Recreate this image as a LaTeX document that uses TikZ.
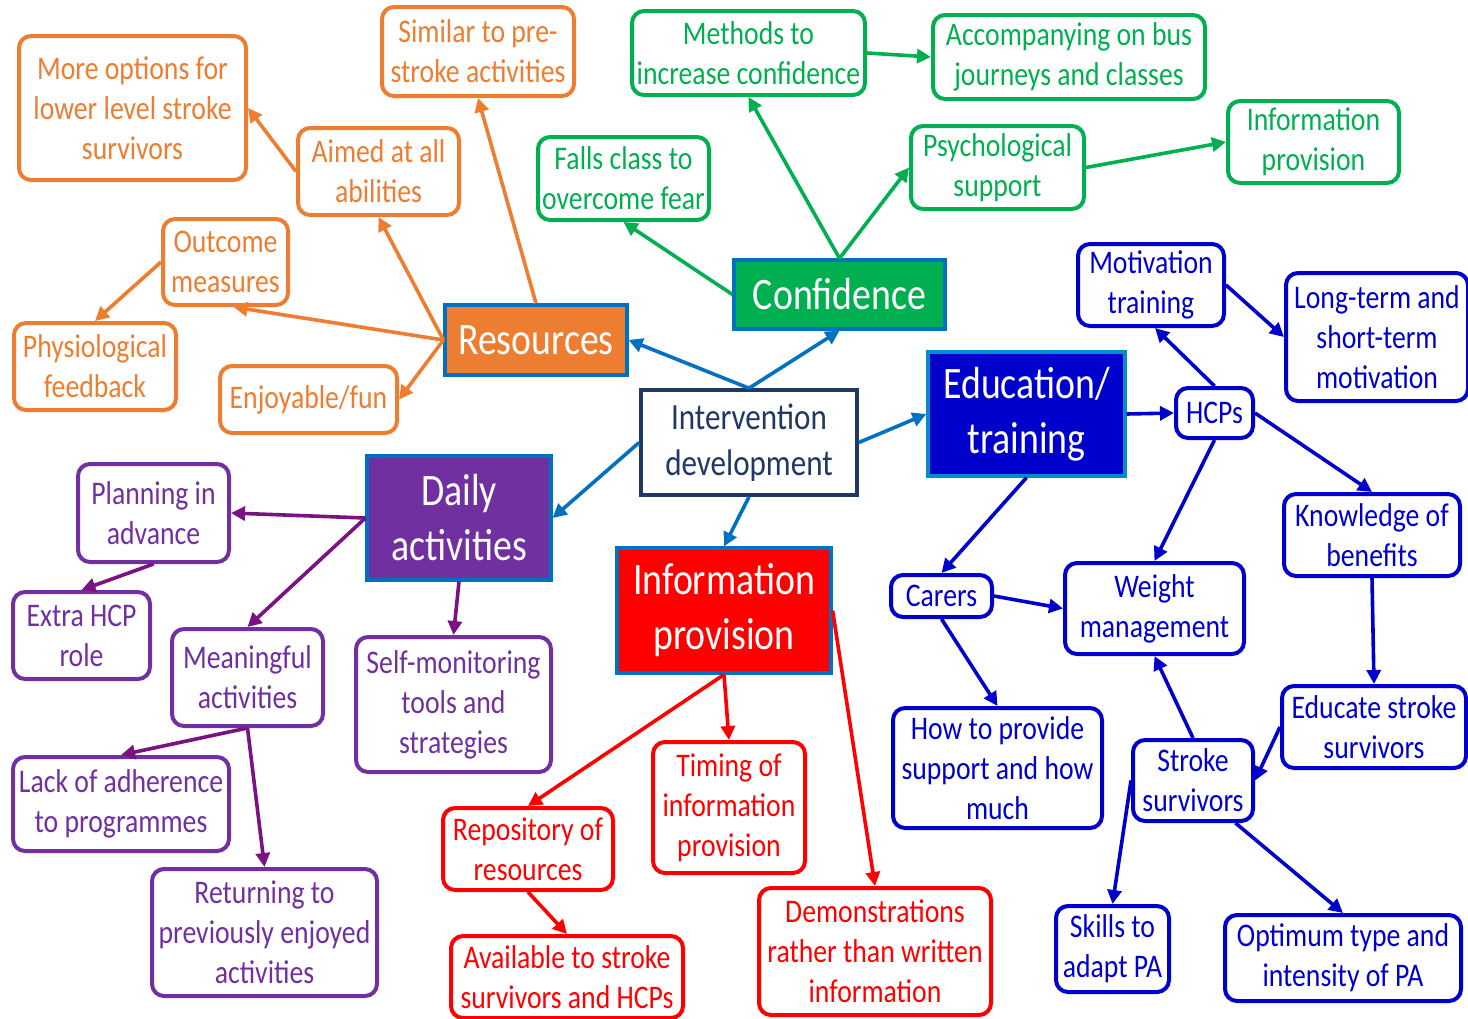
\documentclass[tikz,border=0pt]{standalone}
\usepackage{fontspec}
\setmainfont{Carlito}[FakeStretch=0.84]
\usetikzlibrary{arrows.meta}
\definecolor{cOr}{HTML}{ED7D31}
\definecolor{cGr}{HTML}{00B050}
\definecolor{cBl}{HTML}{0000CC}
\definecolor{cPu}{HTML}{7030A0}
\definecolor{cPa}{HTML}{7A1283}
\definecolor{cRe}{HTML}{FF0000}
\definecolor{cNv}{HTML}{1F3864}
\definecolor{cLb}{HTML}{0070C0}
\tikzset{
  box/.style={draw, line width=2pt, rounded corners=6pt, fill=white, inner sep=0pt, align=center, font=\fontsize{16.5}{20}\selectfont},
  bigbox/.style={draw=cLb, line width=1.6pt, inner sep=0pt, align=center, text=white, font=\fontsize{22.5}{27.5}\selectfont},
  ob/.style={box, draw=cOr, text=cOr},
  gb/.style={box, draw=cGr, text=cGr},
  bb/.style={box, draw=cBl, text=cBl},
  pb/.style={box, draw=cPu, text=cPu},
  rb/.style={box, draw=cRe, text=cRe},
  arr/.style={line width=1.8pt, -{Triangle[length=7pt,width=7pt]}},
}
\begin{document}
\begin{tikzpicture}[x=0.5pt,y=-0.5pt]
\useasboundingbox[fill=white] (0,0) rectangle (1468,1018);
% central
\node[draw=cNv, line width=1.8pt, fill=white, inner sep=0pt, align=center, text=cNv, font=\fontsize{18.5}{23}\selectfont, minimum width=108pt, minimum height=52.5pt] (interv) at (749,442.5) {Intervention\\development};
% orange
\node[bigbox, fill=cOr, minimum width=91pt, minimum height=35pt] (res) at (536,340) {Resources};
\node[ob, minimum width=113.5pt, minimum height=72pt] (moreopt) at (132.5,108) {More options for\\lower level stroke\\survivors};
\node[ob, minimum width=96pt, minimum height=44.5pt] (similar) at (478,51.5) {Similar to pre-\\stroke activities};
\node[ob, minimum width=80.5pt, minimum height=43.5pt] (aimed) at (378.5,171.5) {Aimed at all\\abilities};
\node[ob, minimum width=62.5pt, minimum height=43pt] (outcome) at (225.5,262) {Outcome\\measures};
\node[ob, minimum width=81pt, minimum height=43.5pt] (physio) at (95,366.5) {Physiological\\feedback};
\node[ob, minimum width=88.5pt, minimum height=33.5pt] (enjoy) at (308.5,399.5) {Enjoyable/fun};
% green
\node[bigbox, fill=cGr, minimum width=105.5pt, minimum height=34.5pt] (conf) at (839.5,294.5) {Confidence};
\node[gb, minimum width=116.5pt, minimum height=42pt] (methods) at (748.5,53) {Methods to\\increase confidence};
\node[gb, minimum width=136pt, minimum height=42pt] (accomp) at (1069,57) {Accompanying on bus\\journeys and classes};
\node[gb, minimum width=85.5pt, minimum height=41.5pt] (falls) at (623.5,178.5) {Falls class to\\overcome fear};
\node[gb, minimum width=86.5pt, minimum height=41.5pt] (psych) at (997.5,167.5) {Psychological\\support};
\node[gb, minimum width=85.5pt, minimum height=41pt] (infog) at (1313.5,142) {Information\\provision};
% blue
\node[bigbox, fill=cBl, draw=cLb!80!cyan, minimum width=98.5pt, minimum height=62pt] (edu) at (1026.5,414) {Education/\\training};
\node[bb, minimum width=38.5pt, minimum height=25pt] (hcps) at (1214.5,413) {HCPs};
\node[bb, minimum width=73pt, minimum height=41pt] (motiv) at (1151,285) {Motivation\\training};
\node[bb, minimum width=91pt, minimum height=64pt] (longterm) at (1377,337) {Long-term and\\short-term\\motivation};
\node[bb, minimum width=88pt, minimum height=41pt] (knowledge) at (1372,535) {Knowledge of\\benefits};
\node[bb, minimum width=50.5pt, minimum height=21pt] (carers) at (941.5,596) {Carers};
\node[bb, minimum width=89.5pt, minimum height=45.5pt] (weight) at (1154.5,608.5) {Weight\\management};
\node[bb, minimum width=104.5pt, minimum height=60pt] (howto) at (997.5,768) {How to provide\\support and how\\much};
\node[bb, minimum width=92pt, minimum height=41pt] (educate) at (1374,727) {Educate stroke\\survivors};
\node[bb, minimum width=60pt, minimum height=40.5pt] (stroke) at (1193,780.5) {Stroke\\survivors};
\node[bb, minimum width=56.5pt, minimum height=43pt] (skills) at (1112.5,949) {Skills to\\adapt PA};
\node[bb, minimum width=118pt, minimum height=43pt] (optimum) at (1343,958) {Optimum type and\\intensity of PA};
% purple
\node[bigbox, fill=cPu, minimum width=92pt, minimum height=62pt] (daily) at (459,518) {Daily\\activities};
\node[pb, minimum width=75.5pt, minimum height=49pt] (planning) at (153.5,513) {Planning in\\advance};
\node[pb, minimum width=68.5pt, minimum height=43.5pt] (extra) at (81.5,635.5) {Extra HCP\\role};
\node[pb, minimum width=75.5pt, minimum height=48.5pt] (meaningful) at (247.5,677.5) {Meaningful\\activities};
\node[pb, minimum width=97.5pt, minimum height=67.5pt] (selfmon) at (453.5,704.5) {Self-monitoring\\tools and\\strategies};
\node[pb, minimum width=108pt, minimum height=47pt] (lack) at (121,804) {Lack of adherence\\to programmes};
\node[pb, minimum width=112.5pt, minimum height=63.5pt] (returning) at (264.5,932.5) {Returning to\\previously enjoyed\\activities};
% red
\node[bigbox, fill=cRe, minimum width=107pt, minimum height=62.5pt] (infoR) at (724,610.5) {Information\\provision};
\node[rb, minimum width=85pt, minimum height=41pt] (repository) at (528,849) {Repository of\\resources};
\node[rb, minimum width=76pt, minimum height=65.5pt] (timing) at (729,807.5) {Timing of\\information\\provision};
\node[rb, minimum width=116pt, minimum height=41pt] (available) at (567,977) {Available to stroke\\survivors and HCPs};
\node[rb, minimum width=116pt, minimum height=63.5pt] (demos) at (875,951.5) {Demonstrations\\rather than written\\information};
% central connectors
\draw[arr, cLb] (interv.north) -- (res.east);
\draw[arr, cLb] (interv.north) -- (conf.south);
\draw[arr, cLb] (interv.east) -- (edu.west);
\draw[arr, cLb] (interv.west) -- (daily.east);
\draw[arr, cLb] (interv.south) -- (infoR.north);
% orange connectors
\draw[arr, cOr] (res.north) -- (similar.south);
\draw[arr, cOr] (res.west) -- (aimed.south);
\draw[arr, cOr] (res.west) -- ([xshift=4pt]outcome.south);
\draw[arr, cOr] (res.west) -- (enjoy.east);
\draw[arr, cOr] (aimed.west) -- (moreopt.east);
\draw[arr, cOr] (outcome.west) -- (physio.north);
% green connectors
\draw[arr, cGr] (conf.west) -- (falls.south);
\draw[arr, cGr] (conf.north) -- (methods.south);
\draw[arr, cGr] (conf.north) -- (psych.west);
\draw[arr, cGr] (methods.east) -- (accomp.west);
\draw[arr, cGr] (psych.east) -- (infog.west);
% blue connectors
\draw[arr, cBl] (edu.east) -- (hcps.west);
\draw[arr, cBl] (edu.south) -- (carers.north);
\draw[arr, cBl] (hcps.north) -- ([xshift=2pt]motiv.south);
\draw[arr, cBl] (motiv.east) -- (longterm.west);
\draw[arr, cBl] (hcps.east) -- (knowledge.north);
\draw[arr, cBl] (hcps.south) -- (weight.north);
\draw[arr, cBl] (knowledge.south) -- (educate.north);
\draw[arr, cBl] (carers.east) -- (weight.west);
\draw[arr, cBl] (carers.south) -- (howto.north);
\draw[arr, cBl] (educate.west) -- (stroke.east);
\draw[arr, cBl] (stroke.north) -- (weight.south);
\draw[arr, cBl] (stroke.west) -- (skills.north);
\draw[arr, cBl] (stroke.-45) -- (optimum.north);
% purple connectors
\draw[arr, cPa] (daily.west) -- (planning.east);
\draw[arr, cPa] (daily.west) -- (meaningful.north);
\draw[arr, cPa] (daily.south) -- (selfmon.north);
\draw[arr, cPa] (planning.south) -- (extra.north);
\draw[arr, cPa] (meaningful.south) -- (lack.north);
\draw[arr, cPa] (meaningful.south) -- (returning.north);
% red connectors
\draw[arr, cRe] (infoR.south) -- (repository.north);
\draw[arr, cRe] (infoR.south) -- (timing.north);
\draw[arr, cRe] (infoR.east) -- (demos.north);
\draw[arr, cRe] (repository.south) -- (available.north);
\end{tikzpicture}
\end{document}
